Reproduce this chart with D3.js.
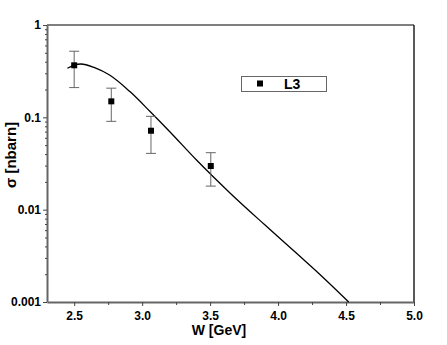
<!DOCTYPE html>
<html>
<head>
<meta charset="utf-8">
<script src="https://cdn.jsdelivr.net/npm/d3@7"></script>
<style>
  body { margin: 0; background: #fff; }
  text { font-family: Arial, "Liberation Sans", sans-serif; font-weight: bold; }
</style>
</head>
<body>
<svg width="447" height="345"></svg>
<script>
(function (d3) {
  'use strict';

  // L3 measurements
  var pointW = [2.5, 2.773, 3.065, 3.505];
  var pointSigma = [0.366, 0.149, 0.0716, 0.0297];
  var errLow = [0.21, 0.0905, 0.0407, 0.018];
  var errHigh = [0.52, 0.207, 0.1025, 0.0414];

  // model curve
  var curveW = [2.45, 2.5, 2.55, 2.65, 2.76, 2.91, 3.06, 3.2, 3.4, 3.65, 3.9, 4.14, 4.3, 4.52];
  var curveSigma = [0.34, 0.368, 0.378, 0.345, 0.287, 0.19, 0.115, 0.0708, 0.0345, 0.015, 0.0069, 0.00333, 0.00204, 0.001];

  var xTicks = [2.5, 3.0, 3.5, 4.0, 4.5, 5.0];
  var xMinor = [2.75, 3.25, 3.75, 4.25, 4.75];
  var yTicks = [0.001, 0.01, 0.1, 1];
  var yTickLabels = ['0.001', '0.01', '0.1', '1'];

  var svg = d3.select('svg');
  var x = d3.scaleLinear().domain([2.3, 5.0]).range([47, 414]);
  var y = d3.scaleLog().domain([0.001, 1]).range([302, 25]);

  var yMinor = [];
  [0.001, 0.01, 0.1].forEach(function (dec) {
    for (var k = 2; k <= 9; k++) yMinor.push(dec * k);
  });

  // frame top/right
  svg.append('line').attr('x1', 47).attr('x2', 414).attr('y1', 25).attr('y2', 25)
    .attr('stroke', '#555').attr('stroke-width', 1.5);
  svg.append('line').attr('x1', 414).attr('x2', 414).attr('y1', 25).attr('y2', 302)
    .attr('stroke', '#222').attr('stroke-width', 1.5);

  // x axis
  var gx = svg.append('g').attr('transform', 'translate(0,302)');
  gx.call(d3.axisBottom(x).tickValues(xTicks).tickFormat(d3.format('.1f')).tickSize(4).tickSizeOuter(0));
  gx.append('g').call(d3.axisBottom(x).tickValues(xMinor).tickFormat('').tickSize(3).tickSizeOuter(0))
    .select('.domain').remove();
  gx.selectAll('.domain').attr('stroke', '#666').attr('stroke-width', 2);
  gx.selectAll('.tick line').attr('stroke', '#444');
  gx.selectAll('.tick text').attr('font-size', 12).attr('font-weight', 'bold').attr('fill', '#000')
    .attr('font-family', 'Arial, "Liberation Sans", sans-serif').attr('dy', '0.9em');

  // y axis
  var gy = svg.append('g').attr('transform', 'translate(47,0)');
  gy.call(d3.axisLeft(y).tickValues(yTicks).tickFormat(function (d, i) { return yTickLabels[i]; })
    .tickSize(4).tickSizeOuter(0));
  gy.append('g').call(d3.axisLeft(y).tickValues(yMinor).tickFormat('').tickSize(2).tickSizeOuter(0))
    .select('.domain').remove();
  gy.selectAll('.domain').attr('stroke', '#666').attr('stroke-width', 2);
  gy.selectAll('.tick line').attr('stroke', '#444');
  gy.selectAll('.tick text').attr('font-size', 12).attr('font-weight', 'bold').attr('fill', '#000')
    .attr('font-family', 'Arial, "Liberation Sans", sans-serif').attr('x', -6);

  // titles
  svg.append('text').attr('x', 219).attr('y', 335).attr('text-anchor', 'middle')
    .attr('font-size', 14).text('W [GeV]');
  svg.append('text').attr('transform', 'translate(16,155) rotate(-90)').attr('text-anchor', 'middle')
    .attr('font-size', 15).text('σ [nbarn]');

  // model line
  var line = d3.line()
    .x(function (d, i) { return x(curveW[i]); })
    .y(function (d, i) { return y(curveSigma[i]); })
    .curve(d3.curveMonotoneX);
  svg.append('path').datum(curveW).attr('d', line)
    .attr('fill', 'none').attr('stroke', '#000').attr('stroke-width', 1.3);

  // error bars
  var eb = svg.append('g').attr('stroke', '#666').attr('stroke-width', 1);
  pointW.forEach(function (w, i) {
    var cx = x(w);
    eb.append('line').attr('x1', cx).attr('x2', cx).attr('y1', y(errLow[i])).attr('y2', y(errHigh[i]));
    eb.append('line').attr('x1', cx - 5).attr('x2', cx + 5).attr('y1', y(errLow[i])).attr('y2', y(errLow[i]));
    eb.append('line').attr('x1', cx - 5).attr('x2', cx + 5).attr('y1', y(errHigh[i])).attr('y2', y(errHigh[i]));
  });

  svg.selectAll('rect.pt').data(pointW).enter().append('rect')
    .attr('class', 'pt')
    .attr('x', function (d) { return x(d) - 3; })
    .attr('y', function (d, i) { return y(pointSigma[i]) - 3; })
    .attr('width', 6).attr('height', 6).attr('fill', '#000');

  // legend
  var lg = svg.append('g');
  lg.append('rect').attr('x', 241.5).attr('y', 76.5).attr('width', 85).attr('height', 15)
    .attr('fill', '#fff').attr('stroke', '#666').attr('stroke-width', 1);
  lg.append('rect').attr('x', 257).attr('y', 80.5).attr('width', 6).attr('height', 6).attr('fill', '#000');
  lg.append('text').attr('x', 284).attr('y', 89).attr('font-size', 14).text('L3');

}(d3));
</script>
</body>
</html>
